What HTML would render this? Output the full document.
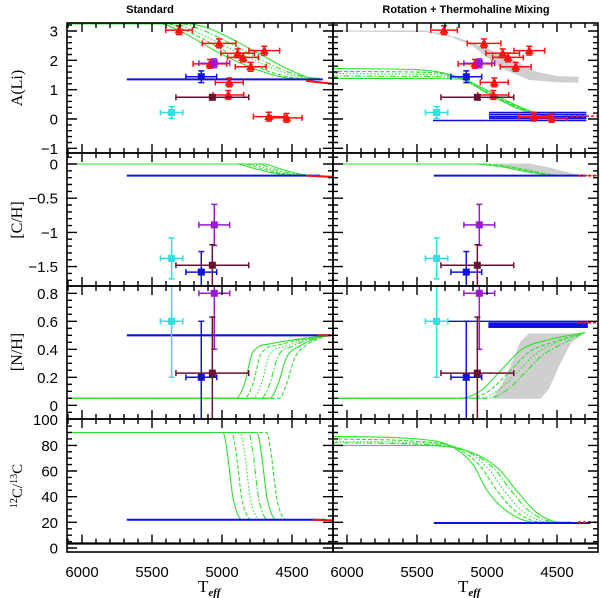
<!DOCTYPE html>
<html><head><meta charset="utf-8">
<style>
html,body{margin:0;padding:0;background:#fff;}
svg{display:block;}
text{font-family:"Liberation Sans",sans-serif;}
</style></head>
<body>
<svg id="chart" width="600" height="598" viewBox="0 0 600 598" xmlns="http://www.w3.org/2000/svg">
<text x="150" y="13" font-size="11" font-weight="bold" text-anchor="middle">Standard</text>
<text x="466" y="13" font-size="11" font-weight="bold" text-anchor="middle">Rotation + Thermohaline Mixing</text>
<text transform="translate(22,88) rotate(-90)" font-size="16" text-anchor="middle" style="font-family:'Liberation Serif',serif">A(Li)</text>
<text transform="translate(22,220) rotate(-90)" font-size="16" text-anchor="middle" style="font-family:'Liberation Serif',serif">[C/H]</text>
<text transform="translate(22,352) rotate(-90)" font-size="16" text-anchor="middle" style="font-family:'Liberation Serif',serif">[N/H]</text>
<text transform="translate(22,486) rotate(-90)" font-size="15" text-anchor="middle" style="font-family:'Liberation Serif',serif"><tspan font-size="10" dy="-5">12</tspan><tspan dy="5">C/</tspan><tspan font-size="10" dy="-5">13</tspan><tspan dy="5">C</tspan></text>
<text x="198" y="592" font-size="17" style="font-family:'Liberation Serif',serif">T<tspan font-size="11" font-style="italic" font-weight="bold" dy="4">eff</tspan></text>
<text x="458" y="592" font-size="17" style="font-family:'Liberation Serif',serif">T<tspan font-size="11" font-style="italic" font-weight="bold" dy="4">eff</tspan></text>
</svg>
<script>
// ---- data ----
const teffTicks=[6000,5500,5000,4500];
const liTicks=[3,2,1,0,-1];
const chTicks=[0,-0.5,-1,-1.5];
const nhTicks=[0.8,0.6,0.4,0.2,0];
const ccTicks=[100,80,60,40,20,0];
// red triangles (Li)
const triTeff=[5307,5021,4888,4850,4698,4795,5086,4948,4955,4666,4538];
const triLi=[3.03,2.58,2.24,2.1,2.33,1.78,1.88,1.25,0.82,0.08,0.04];
const triTeffErr=[95,120,120,110,110,110,120,100,110,110,110];
const triLiErr=[0.15,0.15,0.15,0.15,0.15,0.15,0.15,0.15,0.15,0.15,0.15];
// squares: purple, blue, maroon, cyan
const sqTeff=[5055,5148,5069,5360];
const sqTeffErr=[110,110,260,80];
const sqLi=[1.9,1.44,0.74,0.22];
const sqLiErr=[0.15,0.2,0.0,0.2];
const sqCH=[-0.89,-1.58,-1.48,-1.38];
const sqCHErr=[0.3,0.3,0.3,0.3];
const sqNH=[0.8,0.2,0.23,0.6];
const sqNHErr=[0.4,0.4,0.4,0.4];
// model curves: standard
const stdLiCurves=[
[[6107,3.25],[5450,3.25],[5300,3.0],[5000,2.2],[4700,1.6],[4500,1.38],[4300,1.35]],
[[6107,3.25],[5400,3.25],[5250,3.0],[4950,2.25],[4650,1.6],[4450,1.38],[4300,1.35]],
[[6107,3.25],[5350,3.25],[5200,3.0],[4900,2.3],[4600,1.65],[4420,1.4],[4300,1.36]],
[[6107,3.25],[5300,3.25],[5150,3.05],[4850,2.35],[4580,1.7],[4400,1.42],[4300,1.37]],
[[6107,3.25],[5250,3.25],[5100,3.1],[4800,2.4],[4550,1.75],[4380,1.42],[4300,1.38]]];
const stdLiBlue=[[5680,1.35],[4280,1.35]];
const stdLiRed=[[4400,1.3],[4207,1.2]];
const stdCHCurves=[
[[6107,0],[4900,0],[4780,-0.06],[4640,-0.13],[4530,-0.16],[4207,-0.18]],
[[6107,0],[4850,0],[4730,-0.06],[4600,-0.13],[4490,-0.16],[4207,-0.18]],
[[6107,0],[4800,0],[4690,-0.06],[4560,-0.13],[4450,-0.16],[4207,-0.18]],
[[6107,0],[4750,0],[4650,-0.06],[4520,-0.13],[4420,-0.16],[4207,-0.18]],
[[6107,0],[4700,0],[4600,-0.06],[4480,-0.13],[4400,-0.16],[4207,-0.18]]];
const stdCHBlue=[[5680,-0.17],[4300,-0.17]];
const stdCHRed=[[4400,-0.17],[4207,-0.19]];
const stdNHCurves=[
[[6107,0.05],[4900,0.05],[4840,0.15],[4780,0.38],[4650,0.44],[4400,0.48],[4220,0.5]],
[[6107,0.05],[4840,0.05],[4780,0.15],[4720,0.37],[4600,0.43],[4380,0.48],[4220,0.5]],
[[6107,0.05],[4780,0.05],[4720,0.15],[4660,0.36],[4550,0.42],[4360,0.48],[4220,0.5]],
[[6107,0.05],[4720,0.05],[4660,0.15],[4600,0.35],[4500,0.42],[4340,0.48],[4220,0.5]],
[[6107,0.05],[4660,0.05],[4600,0.15],[4540,0.34],[4450,0.42],[4320,0.48],[4220,0.5]],
[[6107,0.05],[4590,0.05],[4540,0.15],[4480,0.34],[4410,0.42],[4300,0.48],[4220,0.5]]];
const stdNHBlue=[[5680,0.5],[4230,0.5]];
const stdNHRed=[[4320,0.5],[4207,0.5]];
const stdCCCurves=[
[[6107,90],[4993,90],[4963,75],[4923,40],[4883,25],[4858,22]],
[[6107,90],[4930,90],[4900,75],[4860,40],[4820,25],[4795,22]],
[[6107,90],[4870,90],[4840,75],[4800,40],[4760,25],[4735,22]],
[[6107,90],[4810,90],[4780,75],[4740,40],[4700,25],[4675,22]],
[[6107,90],[4750,90],[4720,75],[4680,40],[4640,25],[4615,22]],
[[6107,90],[4681,90],[4651,75],[4611,40],[4571,25],[4546,22]]];
const stdCCBlue=[[5680,22],[4260,22]];
const stdCCRed=[[4350,22],[4207,21.5]];
// model curves: rotation + thermohaline
const rotLiGray=[[6107,3.0],[5450,3.0],[5200,2.75],[4900,2.2],[4650,1.6],[4500,1.45],[4350,1.42],[4350,1.25],[4500,1.27],[4700,1.35],[4900,1.75],[5100,2.5],[5300,2.9],[5450,2.98]];
const rotLiCurves=[
[[6107,1.72],[5500,1.68],[5250,1.5],[5050,1.1],[4850,0.6],[4650,0.2],[4480,0.05],[4300,0.03]],
[[6107,1.62],[5500,1.6],[5230,1.45],[5030,1.0],[4830,0.52],[4630,0.17],[4470,0.04],[4300,0.03]],
[[6107,1.55],[5500,1.52],[5220,1.42],[5010,0.92],[4800,0.45],[4600,0.13],[4460,0.03],[4300,0.02]],
[[6107,1.47],[5500,1.45],[5200,1.4],[4990,0.85],[4780,0.38],[4580,0.1],[4450,0.03],[4300,0.02]],
[[6107,1.38],[5500,1.38],[5180,1.36],[4970,0.8],[4760,0.32],[4560,0.07],[4440,0.02],[4300,0.02]]];
const rotLiBlue=[[[4986,0.22],[4290,0.22]],[[4986,0.15],[4290,0.15]],[[4986,0.08],[4290,0.08]],[[4986,0.02],[4290,0.02]],[[5386,-0.05],[4290,-0.05]]];
const rotLiRed=[[4400,0.1],[4207,0.1]];
const rotCHGray=[[4950,0],[4700,0],[4550,-0.06],[4400,-0.14],[4300,-0.17],[4550,-0.17],[4700,-0.12],[4850,-0.04]];
const rotCHCurves=[
[[6107,0],[5100,0],[4900,-0.04],[4700,-0.12],[4500,-0.17],[4207,-0.17]],
[[6107,0],[5050,0],[4850,-0.04],[4650,-0.12],[4480,-0.17],[4207,-0.17]],
[[6107,0],[5000,0],[4800,-0.05],[4600,-0.13],[4460,-0.17],[4207,-0.17]]];
const rotCHBlue=[[5380,-0.17],[4290,-0.17]];
const rotCHRed=[[4350,-0.17],[4207,-0.17]];
const rotNHGray=[[4960,0.05],[4620,0.05],[4560,0.12],[4480,0.3],[4400,0.45],[4320,0.51],[4700,0.51],[4760,0.45],[4820,0.3],[4890,0.15]];
const rotNHCurves=[
[[6107,0.05],[5200,0.05],[5050,0.1],[4900,0.25],[4750,0.4],[4550,0.47],[4300,0.52]],
[[6107,0.05],[5130,0.05],[4990,0.1],[4840,0.24],[4700,0.38],[4500,0.46],[4300,0.52]],
[[6107,0.05],[5060,0.05],[4930,0.1],[4790,0.23],[4650,0.37],[4470,0.46],[4300,0.52]],
[[6107,0.05],[5000,0.05],[4870,0.1],[4740,0.22],[4600,0.36],[4440,0.45],[4300,0.52]]];
const rotNHBlue=[[[5336,0.6],[4280,0.6]],[[4990,0.585],[4280,0.585]],[[4990,0.57],[4280,0.57]],[[4990,0.56],[4280,0.56]]];
const rotNHRed=[[4350,0.59],[4207,0.59]];
const rotCCCurves=[
[[6107,87],[5500,85],[5250,79],[5100,65],[5000,45],[4850,28],[4650,20],[4400,20]],
[[6107,85],[5500,83],[5220,78],[5050,64],[4930,45],[4800,29],[4600,20],[4400,20]],
[[6107,83],[5500,82],[5200,78],[5000,63],[4880,45],[4750,29],[4550,20],[4400,20]],
[[6107,82],[5500,81],[5180,77],[4960,63],[4830,45],[4700,29],[4500,20],[4400,20]],
[[6107,80],[5500,80],[5150,76],[4920,62],[4790,45],[4650,28],[4470,20],[4400,20]]];
const rotCCBlue=[[5380,19.5],[4260,19.5]];
const rotCCRed=[[4350,20],[4207,20]];

// ---- layout ----
const NS="http://www.w3.org/2000/svg";
const svg=document.getElementById('chart');
const cols=[{x0:67,x1:333,ref:82},{x0:333,x1:598,ref:347}];
const rows=[
 {top:23,bot:153,zero:119,k:29.33,min:-1.2,max:3.3,maj:1,mnr:0.2,ticks:liTicks,name:'li'},
 {top:153,bot:286,zero:164,k:68.4,min:-1.8,max:0.2,maj:0.5,mnr:0.1,ticks:chTicks,name:'ch'},
 {top:286,bot:419,zero:405.3,k:140,min:-0.1,max:0.85,maj:0.2,mnr:0.05,ticks:nhTicks,name:'nh'},
 {top:419,bot:552,zero:548,k:1.283,min:0,max:100,maj:20,mnr:5,ticks:ccTicks,name:'c12c13'}];
function xs(c,T){return cols[c].ref+(6000-T)*70/500;}
function ys(r,v){return rows[r].zero-v*rows[r].k;}
function mk(tag,attrs,parent){const e=document.createElementNS(NS,tag);for(const k in attrs)e.setAttribute(k,attrs[k]);(parent||svg).appendChild(e);return e;}
// monotone cubic (Fritsch-Carlson) path, x increasing
function smooth(P){
 const n=P.length;
 if(n<3)return 'M'+P.map(p=>p[0].toFixed(1)+','+p[1].toFixed(1)).join(' L');
 const dx=[],s=[];
 for(let i=0;i<n-1;i++){dx.push(P[i+1][0]-P[i][0]);s.push((P[i+1][1]-P[i][1])/dx[i]);}
 const m=[s[0]];
 for(let i=1;i<n-1;i++){m.push(s[i-1]*s[i]<=0?0:(s[i-1]+s[i])/2);}
 m.push(s[n-2]);
 for(let i=0;i<n-1;i++){
  if(s[i]===0){m[i]=0;m[i+1]=0;continue;}
  const a=m[i]/s[i],b=m[i+1]/s[i],h=a*a+b*b;
  if(h>9){const t=3/Math.sqrt(h);m[i]=t*a*s[i];m[i+1]=t*b*s[i];}
 }
 let d='M'+P[0][0].toFixed(1)+','+P[0][1].toFixed(1);
 for(let i=0;i<n-1;i++){
  const h=dx[i]/3;
  d+=' C'+(P[i][0]+h).toFixed(1)+','+(P[i][1]+m[i]*h).toFixed(1)+' '+(P[i+1][0]-h).toFixed(1)+','+(P[i+1][1]-m[i+1]*h).toFixed(1)+' '+P[i+1][0].toFixed(1)+','+P[i+1][1].toFixed(1);
 }
 return d;
}
const defs=mk('defs',{});
const panelG=[];
for(let c=0;c<2;c++){panelG.push([]);for(let r=0;r<4;r++){
 const cp=mk('clipPath',{id:'clip'+c+r},defs);
 mk('rect',{x:cols[c].x0,y:rows[r].top,width:cols[c].x1-cols[c].x0,height:rows[r].bot-rows[r].top},cp);
 const g=mk('g',{'clip-path':'url(#clip'+c+r+')'});
 
 
 panelG[c].push(g);
}}
const dashes=['','4,2','1.5,2','6,2,1.5,2'];
function curves(c,r,list,nm){
 list.forEach((cv,i)=>{
  const p=mk('path',{d:smooth(cv.map(q=>[xs(c,q[0]),ys(r,q[1])])),fill:'none',stroke:'#2ee02e','stroke-width':1.1,'stroke-dasharray':dashes[i%4]},panelG[c][r]);
  
  
 });
}
function line(c,r,pts,color,w,nm,dash){
 const p=mk('path',{d:'M'+pts.map(q=>xs(c,q[0]).toFixed(1)+','+ys(r,q[1]).toFixed(1)).join(' L'),fill:'none',stroke:color,'stroke-width':w,'stroke-dasharray':dash||''},panelG[c][r]);
 
 
}
function gray(c,r,pts,nm){
 const p=mk('polygon',{points:pts.map(q=>xs(c,q[0]).toFixed(1)+','+ys(r,q[1]).toFixed(1)).join(' '),fill:'#cfcfcf',stroke:'#cfcfcf','stroke-width':1,'stroke-linejoin':'round'},panelG[c][r]);
 
 
}
// models
gray(1,0,rotLiGray,'rotation-li-gray-band');
gray(1,1,rotCHGray,'rotation-ch-gray-band');
gray(1,2,rotNHGray,'rotation-nh-gray-band');
curves(0,0,stdLiCurves,'standard-li');curves(0,1,stdCHCurves,'standard-ch');curves(0,2,stdNHCurves,'standard-nh');curves(0,3,stdCCCurves,'standard-cc');
curves(1,0,rotLiCurves,'rotation-li');curves(1,1,rotCHCurves,'rotation-ch');curves(1,2,rotNHCurves,'rotation-nh');curves(1,3,rotCCCurves,'rotation-cc');
const BLUE='#1010e0',RED='#ff1010';
line(0,0,stdLiBlue,BLUE,2,'standard-li-blue-model');line(0,0,stdLiRed,RED,2,'standard-li-red-model');
line(0,1,stdCHBlue,BLUE,2,'standard-ch-blue-model');line(0,1,stdCHRed,RED,2,'standard-ch-red-model');
line(0,2,stdNHBlue,BLUE,2.2,'standard-nh-blue-model');line(0,2,stdNHRed,RED,2,'standard-nh-red-model');
line(0,3,stdCCBlue,BLUE,2,'standard-cc-blue-model');line(0,3,stdCCRed,RED,2,'standard-cc-red-model');
rotLiBlue.forEach((l,i)=>line(1,0,l,BLUE,1.6,'rotation-li-blue-model-'+i));line(1,0,rotLiRed,RED,1.5,'rotation-li-red-model','3,2');
line(1,1,rotCHBlue,BLUE,2,'rotation-ch-blue-model');line(1,1,rotCHRed,RED,2,'rotation-ch-red-model','3,2');
rotNHBlue.forEach((l,i)=>line(1,2,l,BLUE,i?2.2:1.4,'rotation-nh-blue-model-'+i));line(1,2,rotNHRed,RED,1.5,'rotation-nh-red-model','3,2');
line(1,3,rotCCBlue,BLUE,2,'rotation-cc-blue-model');line(1,3,rotCCRed,RED,2,'rotation-cc-red-model','3,2');
// thick black reference line in 12C/13C panels
for(let c=0;c<2;c++){const l=mk('line',{x1:cols[c].x0,x2:cols[c].x1,y1:543.5,y2:543.5,stroke:'#000','stroke-width':2.2});}
// data points
function errbar(g,x,y,dx,dyU,dyD,col){
 mk('line',{x1:x-dx,x2:x+dx,y1:y,y2:y,stroke:col,'stroke-width':1.5},g);
 mk('line',{x1:x-dx,x2:x-dx,y1:y-3,y2:y+3,stroke:col,'stroke-width':1.5},g);
 mk('line',{x1:x+dx,x2:x+dx,y1:y-3,y2:y+3,stroke:col,'stroke-width':1.5},g);
 if(dyU>0||dyD>0){
  mk('line',{x1:x,x2:x,y1:y-dyU,y2:y+dyD,stroke:col,'stroke-width':1.5},g);
  mk('line',{x1:x-3,x2:x+3,y1:y-dyU,y2:y-dyU,stroke:col,'stroke-width':1.5},g);
  mk('line',{x1:x-3,x2:x+3,y1:y+dyD,y2:y+dyD,stroke:col,'stroke-width':1.5},g);
 }
}
const sqColors=['#9a1ad0','#1010e0','#6a1030','#30e0e0'];
const sqNames=['purple','blue','maroon','cyan'];
for(let c=0;c<2;c++){
 triTeff.forEach((T,i)=>{
  const g=mk('g',{},panelG[c][0]);
  
  
  const x=xs(c,T),y=ys(0,triLi[i]),dx=triTeffErr[i]*70/500,dy=triLiErr[i]*rows[0].k;
  errbar(g,x,y,dx,dy,dy,RED);
  mk('polygon',{points:(x)+','+(y-5)+' '+(x-4.5)+','+(y+3.5)+' '+(x+4.5)+','+(y+3.5),fill:RED},g);
 });
 const sets=[[sqLi,sqLiErr,0],[sqCH,sqCHErr,1],[sqNH,sqNHErr,2]];
 sets.forEach(([vals,errs,r])=>{
  sqTeff.forEach((T,i)=>{
   const g=mk('g',{},panelG[c][r]);
   
   
   const x=xs(c,T),y=ys(r,vals[i]),dx=sqTeffErr[i]*70/500,dy=errs[i]*rows[r].k;
   errbar(g,x,y,dx,dy,dy,sqColors[i]);
   mk('rect',{x:x-3.5,y:y-3.5,width:7,height:7,fill:sqColors[i]},g);
  });
 });
}
// frames & ticks
function fmt(v){const s=(Math.round(v*10)/10).toString();return v<0?'\u2212'+s.slice(1):s;}
for(let c=0;c<2;c++)for(let r=0;r<4;r++){
 const R=rows[r],C=cols[c];
 const fr=mk('rect',{x:C.x0,y:R.top,width:C.x1-C.x0,height:R.bot-R.top,fill:'none',stroke:'#000','stroke-width':1.6});
 
 
 let d='';
 for(let T=6100;T>=4200;T-=100){
  const x=xs(c,T);if(x<C.x0+1||x>C.x1-1)continue;
  const L=(T%500===0)?9:5;
  const yb=(r===3)?543.5:R.bot;
  d+='M'+x+','+R.top+'v'+L+'M'+x+','+yb+'v'+(-L);
 }
 const n=Math.round((R.max-R.min)/R.mnr);
 for(let j=0;j<=n;j++){
  const v=Math.round((R.min+j*R.mnr)/R.mnr)*R.mnr;const y=ys(r,v);
  if(y<R.top+1||y>R.bot-1)continue;
  const isMaj=Math.abs(v/R.maj-Math.round(v/R.maj))<1e-6;const L=isMaj?10:5;
  d+='M'+C.x0+','+y.toFixed(1)+'h'+L+'M'+C.x1+','+y.toFixed(1)+'h'+(-L);
 }
 const tp=mk('path',{d:d,stroke:'#000','stroke-width':1.4,fill:'none'});
 
 
 if(c===0){
  R.ticks.forEach(v=>{
   const t=mk('text',{x:58,y:(ys(r,v)+5.5).toFixed(1),'font-size':15,'text-anchor':'end'});
   
   
   t.textContent=fmt(v);
  });
 }
}
for(let c=0;c<2;c++){
 teffTicks.forEach(T=>{
  const x=xs(c,T);if(x>596)return;
  const t=mk('text',{x:x,y:577,'font-size':15,'text-anchor':'middle'});
  
  
  t.textContent=T;
 });
}
</script>
</body></html>
